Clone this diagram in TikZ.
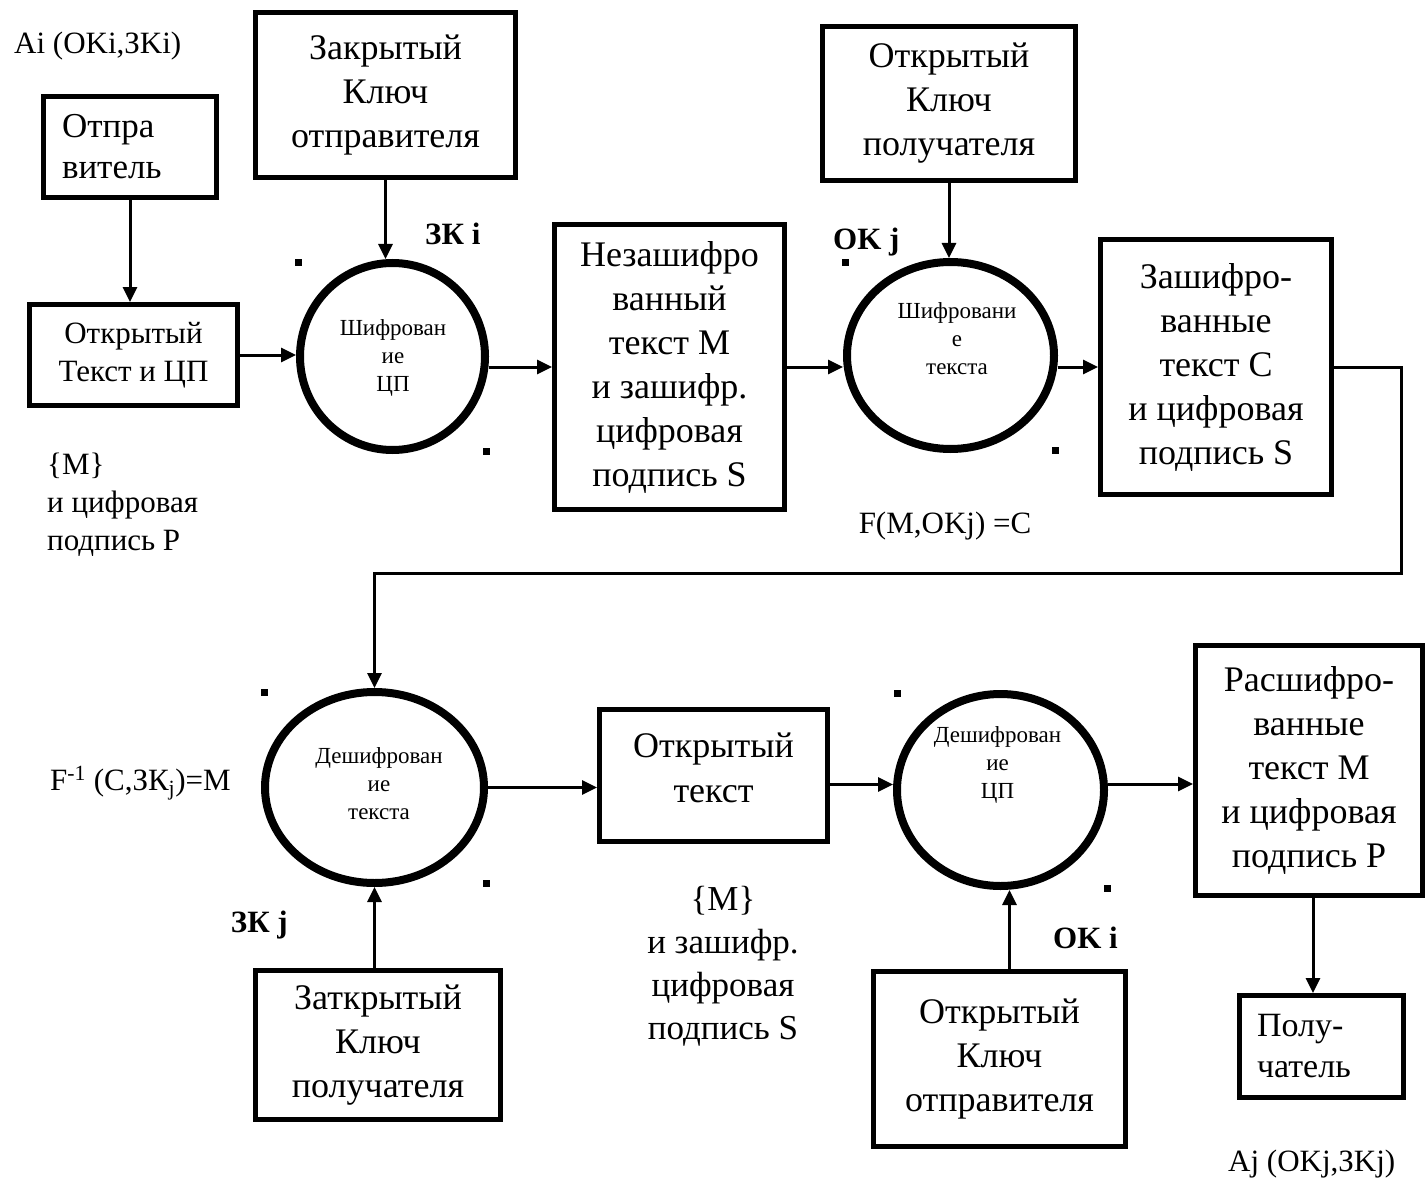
\documentclass[tikz,border=0pt]{standalone}
\usepackage{fontspec}
\setmainfont{Liberation Serif}
\usetikzlibrary{arrows.meta,shapes.geometric}
\newcommand{\fsz}[2]{\fontsize{#1pt}{#2pt}\selectfont}
\begin{document}
\begin{tikzpicture}[x=1pt,y=-1pt,
  box/.style={draw, line width=5pt, inner sep=0pt, align=center, font=\fsz{36}{44}},
  proc/.style={draw, ellipse, line width=8pt, inner sep=0pt},
  ptext/.style={align=center, inner sep=0pt, font=\fsz{23}{28}},
  lab/.style={inner sep=0pt, font=\fsz{31}{38}},
  keylab/.style={inner sep=0pt, font=\bfseries\fsz{31}{36}},
  arr/.style={line width=3pt, -{Triangle[length=15pt,width=14pt]}}
]
\useasboundingbox (0,0) rectangle (1426,1182);

% boxes
\node[box, minimum width=173pt, minimum height=101pt, text width=136pt, inner xsep=18.5pt, align=left, font=\fsz{35}{41}] (otpr) at (130,147) {Отпра\\витель};
\node[box, minimum width=260pt, minimum height=165pt] (zakr1) at (385.5,95) {Закрытый\\Ключ\\отправителя};
\node[box, minimum width=208pt, minimum height=101pt, font=\fsz{31}{38}] (otkrTC) at (133.5,355) {Открытый\\Текст и ЦП};
\node[box, minimum width=230pt, minimum height=285pt] (nezash) at (669.5,367) {Незашифро\\ванный\\текст M\\и зашифр.\\цифровая\\подпись S};
\node[box, minimum width=253pt, minimum height=154pt] (otkrKP) at (949,103.5) {Открытый\\Ключ\\получателя};
\node[box, minimum width=231pt, minimum height=255pt] (zashifr) at (1216,367) {Зашифро-\\ванные\\текст C\\и цифровая\\подпись S};
\node[box, minimum width=245pt, minimum height=149pt] (zatkr) at (378,1045) {Заткрытый\\Ключ\\получателя};
\node[box, minimum width=228pt, minimum height=132pt] (otkrT) at (713.5,775.5) {};
\node[inner sep=0pt, align=center, font=\fsz{36}{45}] (otkrTtext) at (713.5,768) {Открытый\\текст};
\node[box, minimum width=252pt, minimum height=175pt] (otkrKO) at (999.5,1059) {Открытый\\Ключ\\отправителя};
\node[box, minimum width=227pt, minimum height=250pt] (rasshifr) at (1309,770.5) {Расшифро-\\ванные\\текст M\\и цифровая\\подпись P};
\node[box, minimum width=164pt, minimum height=102pt, text width=129pt, inner xsep=17.5pt, align=left, font=\fsz{34}{41}] (poluch) at (1321.5,1046.5) {Полу-\\чатель};

% processes
\node[proc, minimum width=185pt, minimum height=187pt] (circ1) at (392.5,356.5) {};
\node[proc, minimum width=207pt, minimum height=187pt] (circ2) at (950.5,355.5) {};
\node[proc, minimum width=219pt, minimum height=191pt] (circ3) at (374.5,787.5) {};
\node[proc, minimum width=207pt, minimum height=192pt] (circ4) at (1000.5,790) {};
\node[ptext] (t1) at (393,358) {Шифрован\\ие\\ЦП};
\node[ptext] (t2) at (957,339) {Шифровани\\е\\текста};
\node[ptext] (t3) at (379,783.5) {Дешифрован\\ие\\текста};
\node[ptext] (t4) at (997.5,765) {Дешифрован\\ие\\ЦП};

% labels
\node[lab, anchor=base west] (ai) at (14,54) {Ai (OKi,ЗKi)};
\node[lab, anchor=west, align=left] (mp) at (47,505) {\{M\}\\и цифровая\\подпись P};
\node[keylab, anchor=base west] (zki) at (425,245) {ЗК i};
\node[keylab, anchor=base west] (okj) at (833,250) {OK j};
\node[lab, anchor=base] (fm) at (945,533) {F(M,OKj) =C};
\node[lab, anchor=base west] (finv) at (50,790) {F\textsuperscript{-1} (C,ЗК\textsubscript{j})=M};
\node[keylab, anchor=base east] (zkj) at (288,932) {ЗК j};
\node[lab, align=center, font=\fsz{35}{43}] (ms) at (723,966) {\{M\}\\и зашифр.\\цифровая\\подпись S};
\node[keylab, anchor=base west] (oki) at (1053,948) {OK i};
\node[lab, anchor=base west] (aj) at (1228,1171) {Aj (OKj,ЗKj)};

% connectors
\coordinate (turn) at (1401,573);
\draw[arr] (otpr.south) -- (otpr.south |- otkrTC.north);
\draw[arr] (zakr1.south) -- (zakr1.south |- circ1.north);
\draw[arr] (otkrTC.east) -- (otkrTC.east -| circ1.west);
\draw[arr] (circ1.east |- nezash.west) -- (nezash.west);
\draw[arr] (otkrKP.south) -- (otkrKP.south |- circ2.north);
\draw[arr] (nezash.east) -- (nezash.east -| circ2.west);
\draw[arr] (circ2.east |- zashifr.west) -- (zashifr.west);
\draw[arr] (zashifr.east) -| (turn) -| (circ3.north);
\draw[arr] (circ3.south |- zatkr.north) -- (circ3.south);
\draw[arr] (circ3.east) -- (circ3.east -| otkrT.west);
\draw[arr] ([yshift=-9pt]otkrT.east) -- ([yshift=-9pt]otkrT.east -| circ4.west);
\draw[arr] ([xshift=10pt]otkrKO.north) -- ([xshift=10pt]otkrKO.north |- circ4.south);
\draw[arr] ([yshift=6pt]circ4.east) -- ([yshift=6pt]circ4.east -| rasshifr.west);
\draw[arr] ([xshift=4pt]rasshifr.south) -- ([xshift=4pt]rasshifr.south |- poluch.north);

% selection handles
\foreach \hx/\hy in {298/263, 486/451, 845/263, 1055/450, 264/692, 486/883, 897/693, 1107/888}
  \fill (\hx-3.5,\hy-3.5) rectangle ++(7,7);
\end{tikzpicture}
\end{document}
